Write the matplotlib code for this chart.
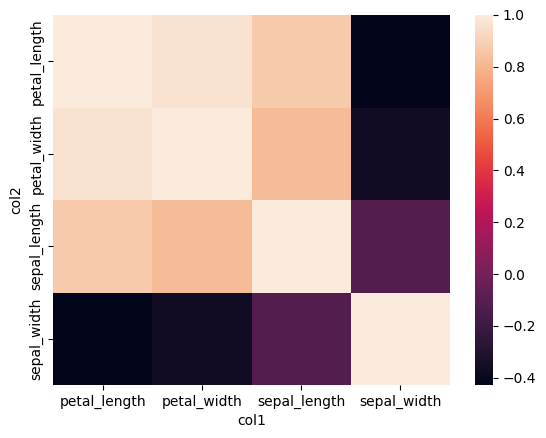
import matplotlib as mpl
import matplotlib.pyplot as plt
import numpy as np
import pandas as pd
import seaborn as sns

mpl.use("Agg")

# iris feature correlations
labels = ["petal_length", "petal_width", "sepal_length", "sepal_width"]
row_petal_length = [1.0, 0.9629, 0.8718, -0.4284]
row_petal_width = [0.9629, 1.0, 0.8179, -0.3661]
row_sepal_length = [0.8718, 0.8179, 1.0, -0.1176]
row_sepal_width = [-0.4284, -0.3661, -0.1176, 1.0]

corr = pd.DataFrame(
    np.array([row_petal_length, row_petal_width, row_sepal_length, row_sepal_width]),
    index=pd.Index(labels, name="col2"),
    columns=pd.Index(labels, name="col1"),
)

fig = plt.figure(figsize=(5.46, 4.38), dpi=100)
ax = fig.add_axes([53 / 546, 53 / 438, 397 / 546, 370 / 438])
cax = fig.add_axes([475 / 546, 53 / 438, 18 / 546, 370 / 438])

sns.heatmap(corr, ax=ax, cbar_ax=cax)

fig.savefig("out.png", dpi=100)
